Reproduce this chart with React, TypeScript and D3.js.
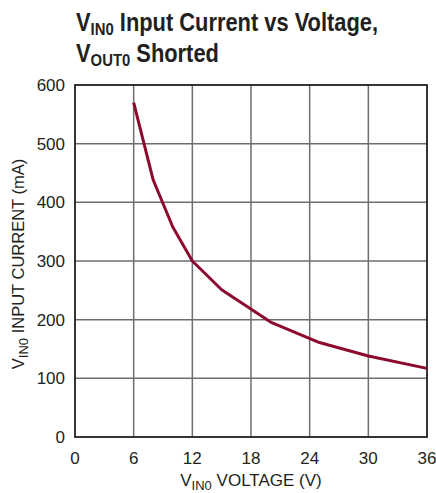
import React from 'react';
import * as d3 from 'd3';

// V_IN0 voltage (V) vs input current (mA), V_OUT0 shorted
const voltage = [6, 8, 10, 12, 15, 20, 25, 30, 36];
const current = [570, 438, 358, 300, 251, 196, 161, 138, 117];

const xTicks = [0, 6, 12, 18, 24, 30, 36];
const yTicks = [0, 100, 200, 300, 400, 500, 600];

const W = 436;
const H = 493;
const margin = { top: 85, right: 9, bottom: 56, left: 75 };
const font = '"Liberation Sans Narrow", "Liberation Sans", Arial, sans-serif';

const App = () => {
    const x = d3.scaleLinear()
        .domain([0, 36])
        .range([margin.left, W - margin.right]);
    const y = d3.scaleLinear()
        .domain([0, 600])
        .range([H - margin.bottom, margin.top]);

    const line = d3.line<number>()
        .x((d, i) => x(voltage[i]))
        .y(d => y(d));

    const x0 = x(0), x1 = x(36), y0 = y(0), y1 = y(600);

    return (
        <svg width={W} height={H} style={{ position: 'absolute', left: 0, top: 0 }}>
            <rect width={W} height={H} fill="#fff" />
            {/* Title (condensed look) */}
            <g fontFamily={font} fontWeight="bold" fill="#231f20" transform="translate(76,0) scale(0.875,1)">
                <text x={0} y={31} fontSize={25}>
                    V<tspan fontSize={17} dy={4}>IN0</tspan>
                    <tspan dy={-4}> Input Current vs Voltage,</tspan>
                </text>
                <text x={0} y={62} fontSize={25}>
                    V<tspan fontSize={17} dy={4}>OUT0</tspan>
                    <tspan dy={-4}> Shorted</tspan>
                </text>
            </g>

            {/* Grid */}
            <g stroke="#6d6e71" strokeWidth={1.5}>
                {xTicks.slice(1, -1).map(t => (
                    <line key={'gx' + t} x1={x(t)} x2={x(t)} y1={y1} y2={y0} />
                ))}
                {yTicks.slice(1, -1).map(t => (
                    <line key={'gy' + t} x1={x0} x2={x1} y1={y(t)} y2={y(t)} />
                ))}
            </g>

            {/* Frame */}
            <rect x={x0} y={y1} width={x1 - x0} height={y0 - y1}
                fill="none" stroke="#231f20" strokeWidth={1.8} />

            {/* Curve */}
            <path d={line(current) || ''} fill="none" stroke="#8c0a2e"
                strokeWidth={3} strokeLinejoin="round" />

            {/* Tick labels */}
            <g fontFamily={font} fontSize={17} fill="#231f20">
                {yTicks.map(t => (
                    <text key={'ty' + t} x={x0 - 10} y={y(t) + 6} textAnchor="end">{t}</text>
                ))}
                {xTicks.map(t => (
                    <text key={'tx' + t} x={x(t)} y={y0 + 27} textAnchor="middle">{t}</text>
                ))}
            </g>

            {/* Axis titles */}
            <g fontFamily={font} fontSize={17} fill="#231f20">
                <text x={251} y={486} textAnchor="middle">
                    V<tspan fontSize={13} dy={4}>IN0</tspan>
                    <tspan dy={-4}> VOLTAGE (V)</tspan>
                </text>
                <text transform={`translate(24, ${(y0 + y1) / 2 + 3}) rotate(-90)`} textAnchor="middle" fontSize={16.5}>
                    V<tspan fontSize={13} dy={4}>IN0</tspan>
                    <tspan dy={-4}> INPUT CURRENT (mA)</tspan>
                </text>
            </g>
        </svg>
    );
};

export default App;
